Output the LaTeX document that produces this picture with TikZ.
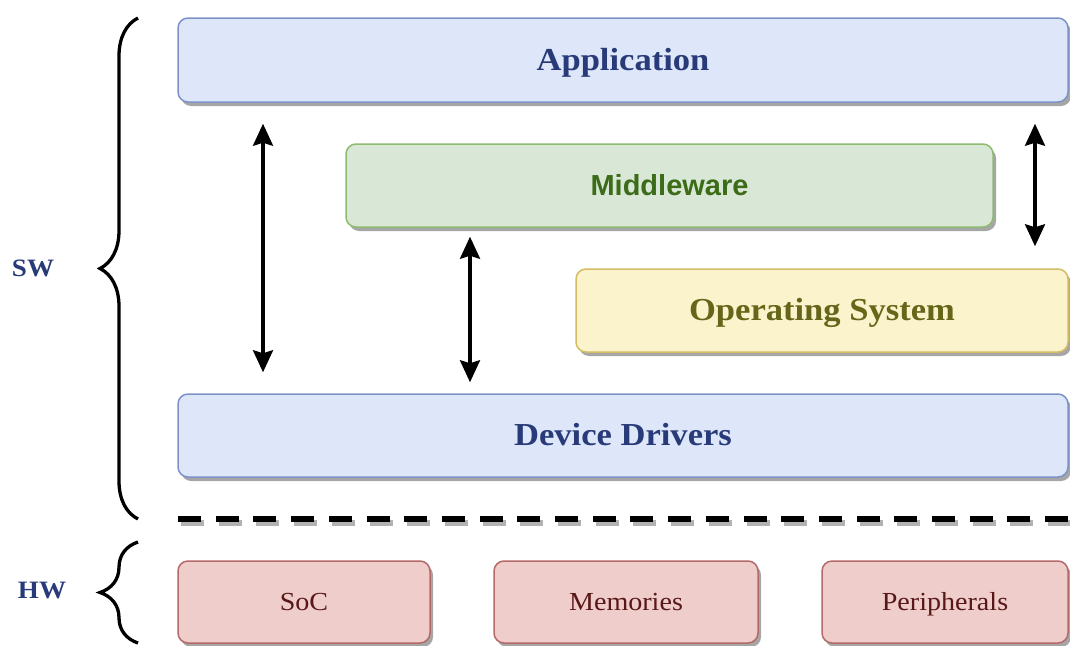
\documentclass[tikz,border=0pt]{standalone}
\usepackage{fontspec}
\setmainfont{Liberation Serif}
\setsansfont{Liberation Sans}
\newfontfamily\widefont[FakeStretch=1.08]{Liberation Serif}
\usetikzlibrary{arrows.meta,shadows,decorations.pathreplacing}
\definecolor{bfill}{HTML}{DEE7F9}
\definecolor{bline}{HTML}{7D93C8}
\definecolor{gfill}{HTML}{D9E8D6}
\definecolor{gline}{HTML}{8DBB70}
\definecolor{yfill}{HTML}{FBF3CC}
\definecolor{yline}{HTML}{D4BC62}
\definecolor{rfill}{HTML}{EECDCB}
\definecolor{rline}{HTML}{B46A68}
\definecolor{navy}{HTML}{283A78}
\definecolor{mgreen}{HTML}{3C6C18}
\definecolor{olive}{HTML}{66661A}
\definecolor{maroon}{HTML}{581818}
\tikzset{
  layer/.style={rounded corners=10pt, line width=1.5pt, inner sep=0pt,
    drop shadow={shadow xshift=3pt, shadow yshift=-4pt, opacity=0.35, fill=black}},
  bluebox/.style={layer, fill=bfill, draw=bline, text=navy, text height=20pt, text depth=0pt,
    font=\widefont\fontsize{32}{36}\selectfont\bfseries},
  greenbox/.style={layer, fill=gfill, draw=gline, text=mgreen, text height=20pt, text depth=0pt,
    font=\sffamily\fontsize{29}{34}\selectfont\bfseries},
  yellowbox/.style={layer, fill=yfill, draw=yline, text=olive, text height=20pt, text depth=0pt,
    font=\widefont\fontsize{32}{36}\selectfont\bfseries},
  redbox/.style={layer, fill=rfill, draw=rline, text=maroon, text height=17pt, text depth=0pt,
    font=\widefont\fontsize{26}{30}\selectfont},
  tipshape/.style={},
  dblarrow/.style={{Stealth[length=22pt,width=20pt,inset=3pt]}-{Stealth[length=22pt,width=20pt,inset=3pt]}, line width=3.3pt, black},
  bracestyle/.style={decorate, decoration={brace, amplitude=38pt, aspect=0.5}, line width=3.3pt, black},
  sidelabel/.style={text=navy, font=\widefont\fontsize{25}{28}\selectfont\bfseries},
}
\begin{document}
\begin{tikzpicture}[x=1pt,y=-1pt]
\useasboundingbox (0,0) rectangle (1070,645);
% layers
\node[bluebox, minimum width=890pt, minimum height=84pt] (app) at (623,60) {Application};
\node[greenbox, minimum width=647pt, minimum height=83pt] (mw) at (669.5,185.5) {Middleware};
\node[yellowbox, minimum width=492pt, minimum height=83pt] (os) at (822,310.5) {Operating System};
\node[bluebox, minimum width=890pt, minimum height=83pt] (dd) at (623,435.5) {Device Drivers};
\node[redbox, minimum width=252pt, minimum height=82pt] (soc) at (304,602) {SoC};
\node[redbox, minimum width=264pt, minimum height=82pt] (mem) at (626,602) {Memories};
\node[redbox, minimum width=246pt, minimum height=82pt] (per) at (945,602) {Peripherals};
% arrows
\coordinate (xa) at (263,0);
\coordinate (xb) at (470,0);
\coordinate (xc) at (1035,0);
\draw[dblarrow, shorten <=21pt, shorten >=21pt] (app.south -| xa) -- (dd.north -| xa);
\draw[dblarrow, shorten <=9pt, shorten >=11pt] (mw.south -| xb) -- (dd.north -| xb);
\draw[dblarrow, shorten <=21pt, shorten >=22pt] (app.south -| xc) -- (os.north -| xc);
% dashed separator
\coordinate (dl) at (178,519);
\coordinate (dr) at (1068,519);
\draw[line width=6pt, black!30, dash pattern=on 23pt off 14.7pt, transform canvas={xshift=3pt,yshift=-4pt}] (dl) -- (dr);
\draw[line width=6pt, black, dash pattern=on 23pt off 14.7pt] (dl) -- (dr);
% braces
\coordinate (swb) at (138,519);
\coordinate (swt) at (138,18);
\coordinate (hwb) at (138,643);
\coordinate (hwt) at (138,542);
\draw[bracestyle] (swb) -- (swt);
\draw[bracestyle] (hwb) -- (hwt);
\node[sidelabel] (sw) at (33,268) {SW};
\node[sidelabel] (hw) at (42,590) {HW};
\end{tikzpicture}
\end{document}
